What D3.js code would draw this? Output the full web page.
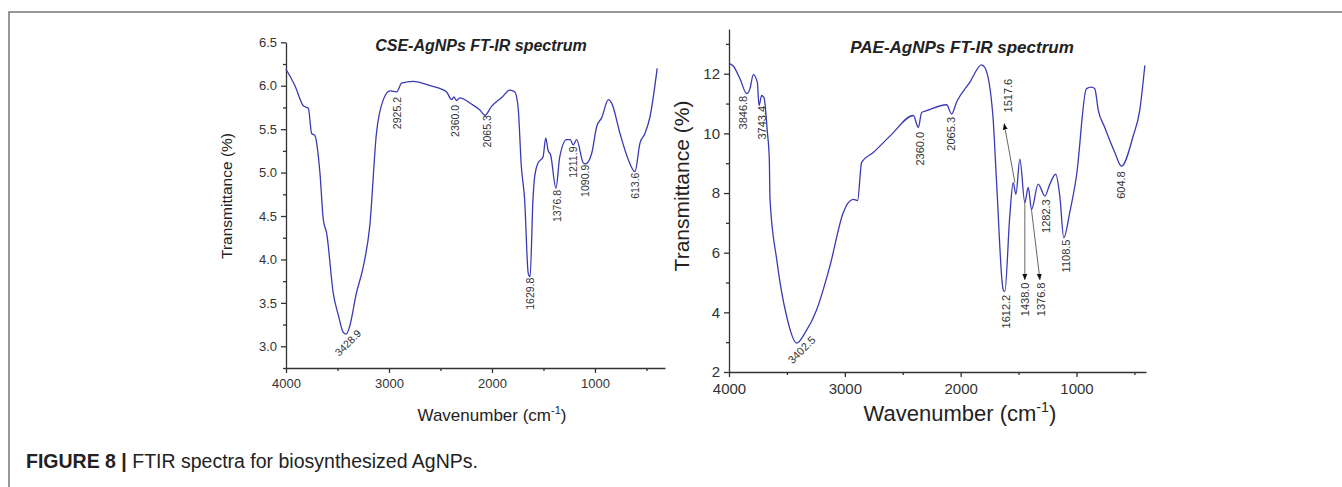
<!DOCTYPE html>
<html>
<head>
<meta charset="utf-8">
<script src="https://cdn.jsdelivr.net/npm/d3@7"></script>
<style>
  html, body { margin: 0; padding: 0; background: #fff; }
  svg { display: block; font-family: "Liberation Sans", Arial, sans-serif; }
</style>
</head>
<body>
<svg id="fig" width="1342" height="487"></svg>
<script>
'use strict';

// ---- data ----
var cseWave = [4000, 3913, 3832, 3783, 3751, 3721, 3670, 3638, 3605, 3541, 3490, 3444, 3415, 3382, 3317, 3249, 3187,
  3122, 3055, 2990, 2925, 2877, 2764, 2600, 2442, 2392, 2370, 2344, 2313, 2200, 2117, 2068, 2006, 1900, 1828, 1780,
  1747, 1715, 1683, 1648, 1630, 1602, 1585, 1553, 1504, 1478, 1456, 1430, 1379, 1342, 1275, 1240, 1211, 1178, 1113,
  1092, 1032, 983, 935, 870, 838, 757, 677, 612, 563, 515, 466, 396];
var cseT = [6.19, 6.0, 5.77, 5.74, 5.45, 5.43, 4.99, 4.46, 4.3, 3.61, 3.35, 3.16, 3.14, 3.23, 3.61, 3.92, 4.38,
  5.45, 5.84, 5.94, 5.93, 6.03, 6.05, 6.0, 5.93, 5.84, 5.87, 5.83, 5.86, 5.79, 5.72, 5.66, 5.76, 5.87, 5.95, 5.93,
  5.76, 5.07, 4.69, 3.84, 3.8, 4.69, 4.96, 5.11, 5.18, 5.4, 5.26, 5.2, 4.82, 5.18, 5.38, 5.38, 5.32, 5.38, 5.11,
  5.1, 5.22, 5.53, 5.63, 5.84, 5.8, 5.45, 5.15, 5.01, 5.34, 5.45, 5.64, 6.2];

var paeWave = [4000, 3963, 3905, 3847, 3819, 3790, 3755, 3741, 3718, 3698, 3669, 3652, 3646, 3588, 3502, 3416, 3344,
  3243, 3129, 3014, 2970, 2927, 2890, 2855, 2754, 2600, 2409, 2365, 2337, 2294, 2121, 2078, 2035, 1920, 1820, 1790,
  1722, 1690, 1633, 1619, 1576, 1547, 1523, 1489, 1446, 1417, 1388, 1331, 1273, 1230, 1179, 1144, 1110, 1058, 1000,
  914, 870, 842, 813, 756, 670, 612, 510, 453, 410];
var paeT = [12.35, 12.26, 11.83, 11.33, 11.5, 11.97, 11.7, 10.93, 11.27, 11.2, 10.05, 9.14, 7.79, 5.77, 3.86, 2.97, 3.31,
  4.09, 5.55, 7.34, 7.68, 7.79, 7.75, 9.03, 9.36, 9.95, 10.6, 10.2, 10.7, 10.76, 10.96, 10.65, 11.05, 11.72, 12.3, 12.2,
  10.6, 8.36, 4.76, 4.7, 7.23, 8.35, 7.96, 9.14, 7.68, 8.19, 7.45, 8.3, 7.9, 8.3, 8.63, 7.9, 6.5, 7.35, 8.58,
  11.5, 11.55, 11.5, 10.8, 10.2, 9.37, 8.9, 9.92, 10.8, 12.28];

// peak labels: text, wavenumber and transmittance where the label ends (top)
var cseLabels = [
  { text: '2925.2', w: 2916, t: 5.87 },
  { text: '2360.0', w: 2359, t: 5.78 },
  { text: '2065.3', w: 2049, t: 5.66 },
  { text: '1629.8', w: 1631, t: 3.79 },
  { text: '1376.8', w: 1369, t: 4.80 },
  { text: '1211.9', w: 1214, t: 5.30 },
  { text: '1090.9', w: 1097, t: 5.09 },
  { text: '613.6', w: 612, t: 5.00 }
];
var cseSlanted = [{ text: '3428.9', w: 3398, t: 3.04 }];

var paeLabels = [
  { text: '3846.8', w: 3879, t: 11.26 },
  { text: '3743.4', w: 3715, t: 10.92 },
  { text: '2360.0', w: 2352, t: 10.05 },
  { text: '2065.3', w: 2079, t: 10.55 },
  { text: '1517.6', w: 1593, t: 11.83 },
  { text: '1612.2', w: 1604, t: 4.59 },
  { text: '1438.0', w: 1446, t: 5.0 },
  { text: '1376.8', w: 1302, t: 5.0 },
  { text: '1282.3', w: 1265, t: 7.79 },
  { text: '1108.5', w: 1086, t: 6.44 },
  { text: '604.8', w: 612, t: 8.73 }
];
var paeSlanted = [{ text: '3402.5', w: 3373, t: 2.74 }];
var paeArrows = [
  { w1: 1532, t1: 8.35, w2: 1624, t2: 10.32 },
  { w1: 1446, t1: 7.69, w2: 1446, t2: 5.1 },
  { w1: 1389, t1: 7.45, w2: 1316, t2: 5.1 }
];

var xTicks = [4000, 3000, 2000, 1000];
var xMinor = [3500, 2500, 1500, 500];
var cseTicks = [3.0, 3.5, 4.0, 4.5, 5.0, 5.5, 6.0, 6.5];
var cseMinor = [2.75, 3.25, 3.75, 4.25, 4.75, 5.25, 5.75, 6.25];
var paeTicks = [2, 4, 6, 8, 10, 12];
var paeMinor = [3, 5, 7, 9, 11, 13];

var lineColor = '#3a3ab4';
var inkColor = '#333';

var svg = d3.select('#fig');

svg.append('defs').append('marker')
  .attr('id', 'head')
  .attr('viewBox', '0 0 10 10')
  .attr('refX', 9).attr('refY', 5)
  .attr('markerWidth', 7).attr('markerHeight', 7)
  .attr('orient', 'auto')
  .append('path')
  .attr('d', 'M0,1L10,5L0,9Z')
  .attr('fill', '#111');

// page frame
svg.append('path')
  .attr('d', 'M9,487V12H1342')
  .attr('fill', 'none')
  .attr('stroke', '#777')
  .attr('stroke-width', 1.5);

function panel(o) {
  var x = d3.scaleLinear().domain(o.xDomain).range(o.xRange);
  var y = d3.scaleLinear().domain(o.yDomain).range(o.yRange);
  var g = svg.append('g');

  g.append('g')
    .attr('transform', 'translate(0,' + o.yRange[0] + ')')
    .call(d3.axisBottom(x).tickValues(xTicks).tickFormat(d3.format('d'))
      .tickSize(5).tickSizeOuter(0).tickPadding(6));
  g.append('g')
    .attr('transform', 'translate(0,' + o.yRange[0] + ')')
    .call(d3.axisBottom(x).tickValues(xMinor).tickFormat('').tickSize(3).tickSizeOuter(0))
    .select('.domain').remove();

  g.append('g')
    .attr('transform', 'translate(' + o.xRange[0] + ',0)')
    .call(d3.axisLeft(y).tickValues(o.yTicks).tickFormat(d3.format(o.yFmt))
      .tickSize(5).tickSizeOuter(0).tickPadding(4));
  g.append('g')
    .attr('transform', 'translate(' + o.xRange[0] + ',0)')
    .call(d3.axisLeft(y).tickValues(o.yMinor).tickFormat('').tickSize(3).tickSizeOuter(0))
    .select('.domain').remove();

  g.selectAll('.domain, .tick line').attr('stroke', inkColor).attr('stroke-width', 1.3);
  g.selectAll('.tick text')
    .attr('fill', inkColor)
    .style('font-size', o.tickFont + 'px');

  var pts = o.wave.map(function (w, i) { return [w, o.trans[i]]; });
  var line = d3.line()
    .x(function (d) { return x(d[0]); })
    .y(function (d) { return y(d[1]); })
    .curve(d3.curveMonotoneX);
  g.append('path')
    .datum(pts)
    .attr('d', line)
    .attr('fill', 'none')
    .attr('stroke', lineColor)
    .attr('stroke-width', 1.3);

  g.selectAll('line.arrow')
    .data(o.arrows || [])
    .enter().append('line')
    .attr('class', 'arrow')
    .attr('x1', function (d) { return x(d.w1); })
    .attr('y1', function (d) { return y(d.t1); })
    .attr('x2', function (d) { return x(d.w2); })
    .attr('y2', function (d) { return y(d.t2); })
    .attr('stroke', '#555')
    .attr('stroke-width', 0.9)
    .attr('marker-end', 'url(#head)');

  g.selectAll('text.peak')
    .data(o.labels)
    .enter().append('text')
    .attr('class', 'peak')
    .attr('transform', function (d) { return 'translate(' + x(d.w) + ',' + y(d.t) + ') rotate(-90)'; })
    .attr('text-anchor', 'end')
    .attr('dy', '0.35em')
    .attr('fill', inkColor)
    .style('font-size', o.labelFont + 'px')
    .text(function (d) { return d.text; });

  g.selectAll('text.slant')
    .data(o.slanted)
    .enter().append('text')
    .attr('class', 'slant')
    .attr('transform', function (d) { return 'translate(' + x(d.w) + ',' + y(d.t) + ') rotate(-45)'; })
    .attr('text-anchor', 'middle')
    .attr('dy', '0.35em')
    .attr('fill', inkColor)
    .style('font-size', o.labelFont + 'px')
    .text(function (d) { return d.text; });

  g.append('text')
    .attr('x', o.titlePos[0]).attr('y', o.titlePos[1])
    .attr('text-anchor', 'middle')
    .attr('fill', '#222')
    .style('font-size', o.titleFont + 'px')
    .style('font-weight', 'bold')
    .style('font-style', 'italic')
    .text(o.title);

  var xl = g.append('text')
    .attr('x', o.xLabelPos[0]).attr('y', o.xLabelPos[1])
    .attr('text-anchor', 'middle')
    .attr('fill', '#222')
    .style('font-size', o.xLabelSize + 'px');
  xl.append('tspan').text('Wavenumber (cm');
  xl.append('tspan').attr('dy', -o.xLabelSize * 0.4).style('font-size', (o.xLabelSize * 0.65) + 'px').text('-1');
  xl.append('tspan').attr('dy', o.xLabelSize * 0.4).text(')');

  g.append('text')
    .attr('transform', 'translate(' + o.yLabelPos[0] + ',' + o.yLabelPos[1] + ') rotate(-90)')
    .attr('text-anchor', 'middle')
    .attr('fill', '#222')
    .style('font-size', o.yLabelSize + 'px')
    .text('Transmittance (%)');
}

panel({
  wave: cseWave, trans: cseT,
  xDomain: [4000, 320], xRange: [286, 665],
  yDomain: [2.75, 6.5], yRange: [368, 42.3],
  yTicks: cseTicks, yMinor: cseMinor, yFmt: '.1f',
  labels: cseLabels, slanted: cseSlanted, arrows: [],
  tickFont: 13, labelFont: 10.5, titleFont: 16, xLabelSize: 17, yLabelSize: 15.5,
  title: 'CSE-AgNPs FT-IR spectrum', titlePos: [481, 51],
  xLabelPos: [492, 421], yLabelPos: [232, 196]
});

panel({
  wave: paeWave, trans: paeT,
  xDomain: [4000, 400], xRange: [729, 1146],
  yDomain: [2, 13.5], yRange: [372, 29],
  yTicks: paeTicks, yMinor: paeMinor, yFmt: 'd',
  labels: paeLabels, slanted: paeSlanted, arrows: paeArrows,
  tickFont: 15, labelFont: 11, titleFont: 17, xLabelSize: 22, yLabelSize: 21,
  title: 'PAE-AgNPs FT-IR spectrum', titlePos: [962, 53],
  xLabelPos: [960, 421], yLabelPos: [689, 186]
});

// caption
var cap = svg.append('text')
  .attr('x', 26).attr('y', 468)
  .attr('fill', '#222')
  .style('font-size', '19.5px');
cap.append('tspan').style('font-weight', 'bold').text('FIGURE 8 | ');
cap.append('tspan').text('FTIR spectra for biosynthesized AgNPs.');
</script>
</body>
</html>
